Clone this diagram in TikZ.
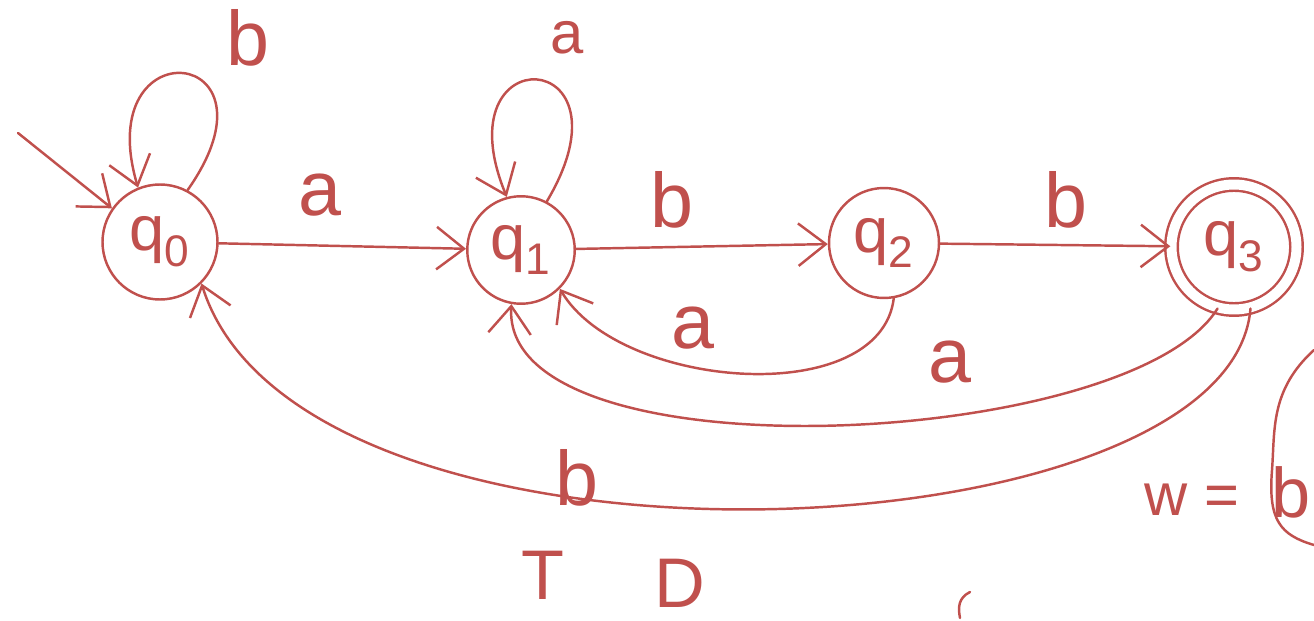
\documentclass[tikz,border=0pt]{standalone}
\usepackage{fontspec}
\setmainfont{Liberation Sans}
\usetikzlibrary{arrows.meta}
\definecolor{ink}{HTML}{C0504D}
\begin{document}
\begin{tikzpicture}[x=0.02cm,y=-0.02cm,
  pen/.style={draw=ink,line width=1.4pt,line cap=round,line join=round},
  stateq/.style={circle,draw=ink,line width=1.4pt,inner sep=0pt,text=ink,font=\fontsize{36}{40}\selectfont},
  lbl/.style={text=ink,inner sep=0pt,font=\fontsize{44}{48}\selectfont},
  tip/.style={pen,-{Straight Barb[length=0.55cm,width=0.85cm,line width=1.4pt]}}]
\useasboundingbox (0,0) rectangle (1314,621);
\node[stateq,minimum size=2.3cm] (q0) at (160,242) {q\textsubscript{0}};
\node[stateq,minimum size=2.15cm] (q1) at (521,250) {q\textsubscript{1}};
\node[stateq,minimum size=2.2cm] (q2) at (884,243) {q\textsubscript{2}};
\node[stateq,minimum size=2.5cm,double=white,double distance=0.2cm] (q3) at (1234,247) {q\textsubscript{3}};
\coordinate (start) at (18,133);
\draw[tip] (start) -- (q0.145);
% straight edges
\draw[tip] (q0) -- (q1);
\draw[tip] (q1) -- (q2);
\draw[tip] (q2) -- (q3);
% loops
\draw[tip] (q0.62) .. controls (290,45) and (90,25) .. (q0.112);
\draw[tip] (q1.62) .. controls (640,45) and (440,35) .. (q1.105);
% back edges
\draw[tip] (q2.-80) .. controls (880,410) and (620,390) .. (q1.-45);
\draw[tip] (q3.-105) .. controls (1130,450) and (500,480) .. (q1.-100);
\draw[tip] (q3.-75) .. controls (1230,560) and (300,600) .. (q0.-45);
% labels
\node[lbl] (la01) at (320,195) {a};
\node[lbl] (lb12) at (672,200) {b};
\node[lbl] (lb23) at (1066,200) {b};
\node[lbl] (la21) at (693,328) {a};
\node[lbl] (la31) at (950,362) {a};
\node[lbl] (lb30) at (577,478) {b};
\node[lbl] (lb00) at (248,38) {b};
\node[lbl,font=\fontsize{34}{38}\selectfont] (la11) at (567,38) {a};
% bottom text
\node[lbl,font=\fontsize{40}{44}\selectfont] (tT) at (543,575) {T};
\node[lbl,font=\fontsize{40}{44}\selectfont] (tD) at (680,583) {D};
% right side
\node[lbl,font=\fontsize{34}{40}\selectfont] (tw) at (1192,500) {w =};
\node[lbl,font=\fontsize{40}{44}\selectfont] (tb) at (1291,492) {b};
\draw[pen] (1314,350) .. controls (1270,390) and (1275,430) .. (1272,470) .. controls (1268,520) and (1280,535) .. (1314,545);
\draw[pen] (970,592) .. controls (958,598) and (958,608) .. (960,618);
\end{tikzpicture}
\end{document}
